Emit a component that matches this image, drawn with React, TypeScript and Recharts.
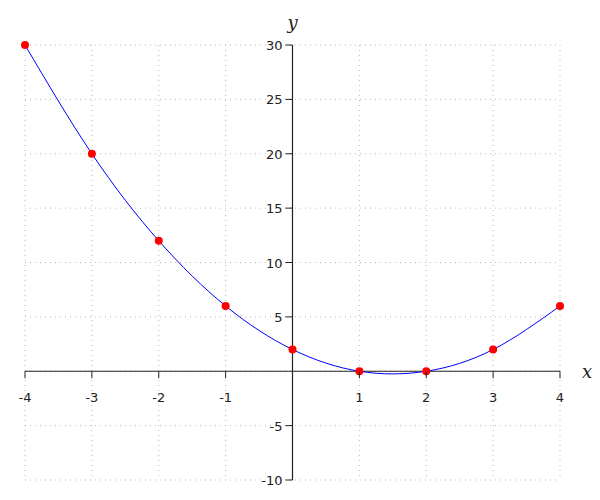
import { LineChart, Line, XAxis, YAxis, CartesianGrid, ReferenceLine } from 'recharts';

const xValues = [-4, -3, -2, -1, 0, 1, 2, 3, 4];
const yValues = [30, 20, 12, 6, 2, 0, 0, 2, 6];
const xTicks = [-4, -3, -2, -1, 0, 1, 2, 3, 4];
const yTicks = [-10, -5, 0, 5, 10, 15, 20, 25, 30];

const X_DOMAIN: [number, number] = [-4, 4];
const Y_DOMAIN: [number, number] = [-10, 30];

const data = xValues.map((x, i) => ({ x, y: yValues[i] }));

const W = 592;
const H = 484;
const AXIS_SIZE = 1;
const margin = { top: 37, right: 40, bottom: 12 - AXIS_SIZE, left: 17 - AXIS_SIZE };

// pixel position of the origin, derived from the domains
const plotLeft = margin.left + AXIS_SIZE;
const plotW = W - plotLeft - margin.right;
const plotH = H - margin.top - margin.bottom - AXIS_SIZE;
const zeroX = plotLeft + (plotW * (0 - X_DOMAIN[0])) / (X_DOMAIN[1] - X_DOMAIN[0]);
const zeroY = margin.top + (plotH * (Y_DOMAIN[1] - 0)) / (Y_DOMAIN[1] - Y_DOMAIN[0]);

const TEXT = '#222';
const FONT = '"DejaVu Sans", sans-serif';

function XTick(props: any) {
    const { x, payload } = props;
    if (payload.value === 0) return <g />;
    return (
        <g>
            <line x1={x} y1={zeroY} x2={x} y2={zeroY + 7} stroke={TEXT} strokeWidth={1} />
            <text x={x} y={zeroY + 31} textAnchor="middle" fill={TEXT} fontSize={13} fontFamily={FONT}>
                {payload.value}
            </text>
        </g>
    );
}

function YTick(props: any) {
    const { y, payload } = props;
    if (payload.value === 0) return <g />;
    return (
        <g>
            <line x1={zeroX - 7} y1={y} x2={zeroX} y2={y} stroke={TEXT} strokeWidth={1} />
            <text x={zeroX - 10} y={y + 5} textAnchor="end" fill={TEXT} fontSize={13} fontFamily={FONT}>
                {payload.value}
            </text>
        </g>
    );
}

export default function App() {
    return (
        <div style={{ width: W, height: H }}>
            <LineChart width={W} height={H} data={data} margin={margin} style={{ overflow: 'visible' }}>
                <CartesianGrid stroke="#bbb" strokeDasharray="1 4" />
                <XAxis
                    type="number"
                    dataKey="x"
                    domain={X_DOMAIN}
                    ticks={xTicks}
                    height={AXIS_SIZE}
                    axisLine={false}
                    tickLine={false}
                    tick={<XTick />}
                    interval={0}
                />
                <YAxis
                    type="number"
                    domain={Y_DOMAIN}
                    ticks={yTicks}
                    width={AXIS_SIZE}
                    axisLine={false}
                    tickLine={false}
                    tick={<YTick />}
                    interval={0}
                />
                <ReferenceLine
                    y={0}
                    stroke={TEXT}
                    strokeWidth={1.2}
                    label={{ value: 'x', position: 'right', offset: 22, fill: TEXT, fontSize: 18, fontStyle: 'italic', fontFamily: '"DejaVu Serif", serif' }}
                />
                <ReferenceLine
                    x={0}
                    stroke={TEXT}
                    strokeWidth={1.2}
                    label={{ value: 'y', position: 'top', offset: 16, fill: TEXT, fontSize: 18, fontStyle: 'italic', fontFamily: '"DejaVu Serif", serif' }}
                />
                <Line
                    type="natural"
                    dataKey="y"
                    stroke="#0000ff"
                    strokeWidth={1}
                    dot={{ r: 4, fill: '#ff0000', stroke: 'none' }}
                    isAnimationActive={false}
                />
            </LineChart>
        </div>
    );
}
